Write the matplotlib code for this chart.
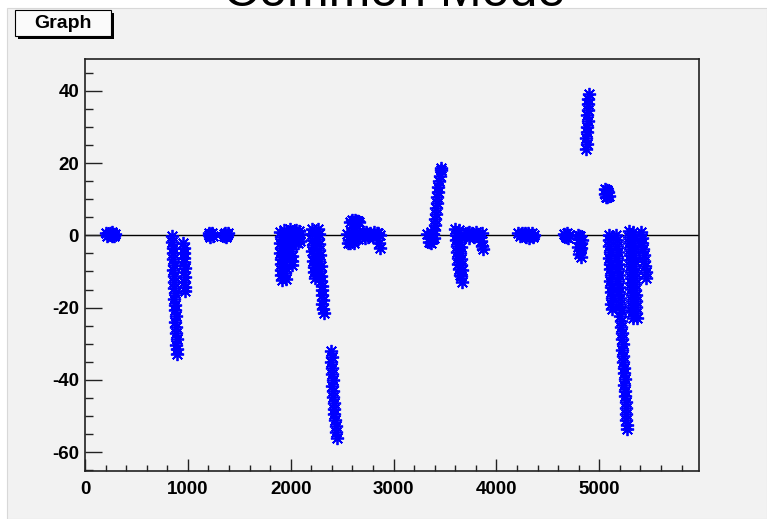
import numpy as np
import matplotlib
matplotlib.use("Agg")
import matplotlib.pyplot as plt
from matplotlib.patches import Rectangle
from matplotlib.ticker import MultipleLocator

# ── Data, one small cluster per streak ──────────────────────────────
A_x = [205, 222, 240, 258, 275, 290, 212, 232, 265, 284]
A_y = [0.6, 0.1, 0.8, -0.2, 0.5, 0.3, -0.3, 0.4, 0.9, -0.1]

B_x = [846, 850, 852, 857, 853, 861, 858, 866, 862, 869, 873, 868, 878, 875, 882, 879, 886, 884, 890, 887, 894, 893]
B_y = [-0.3, -1.8, -3.4, -5.0, -6.6, -8.1, -9.7, -11.3, -12.9, -14.5, -16.0, -17.6, -19.2, -20.8, -22.4, -24.0,
       -25.5, -27.1, -28.7, -30.3, -31.6, -32.8]

C_x = [955, 962, 958, 965, 961, 968, 964, 971, 967, 975, 972]
C_y = [-2.2, -3.5, -4.9, -6.2, -7.5, -8.9, -10.2, -11.5, -12.9, -14.2, -15.5]

D_x = [1201, 1214, 1227, 1240, 1208, 1233]
D_y = [0.7, -0.4, 0.5, -0.2, 0.1, 0.8]

E_x = [1347, 1360, 1373, 1386, 1354, 1380]
E_y = [0.3, 0.8, -0.5, 0.6, -0.3, 0.1]

F_x = [1895, 1903, 1898, 1906, 1900, 1908, 1902, 1910, 1905, 1912,
       1938, 1945, 1940, 1948, 1942, 1950, 1944, 1952, 1946, 1950,
       1995, 2005, 2000, 2010, 2003, 2012, 2008, 2015,
       2050, 2065, 2080, 2095, 2058, 2075, 2090]
F_y = [1.0, -0.5, -2.0, -3.5, -5.0, -6.5, -8.0, -9.5, -11.0, -12.4,
       1.5, 0.0, -1.5, -3.0, -4.5, -6.0, -7.5, -9.0, -10.5, -12.0,
       1.8, 0.3, -1.2, -2.7, -4.2, -5.7, -7.0, -8.3,
       1.5, 0.8, 1.2, 0.3, -1.0, -2.0, -1.5]

G_x = [2205, 2212, 2208, 2216, 2212, 2222, 2218, 2228, 2224, 2235,
       2262, 2275, 2268, 2280, 2272, 2285, 2278, 2290,
       2288, 2296, 2292, 2300, 2305, 2302, 2312, 2308, 2318, 2322]
G_y = [1.8, 0.3, -1.2, -2.7, -4.2, -5.7, -7.2, -8.7, -10.2, -11.7,
       1.8, 0.5, -1.0, -2.5, -4.0, -5.5, -7.0, -8.6,
       -10.0, -11.3, -12.6, -13.9, -15.2, -16.5, -17.8, -19.1, -20.4, -21.5]

H_x = [2393, 2400, 2396, 2405, 2401, 2410, 2406, 2415, 2411, 2420, 2425, 2421, 2432, 2438, 2443, 2450]
H_y = [-32.0, -33.6, -35.2, -36.8, -38.4, -40.0, -41.6, -43.2, -44.8, -46.4, -48.0, -49.6, -51.2, -52.8,
       -54.4, -56.0]

I_x = [2550, 2555, 2565, 2580, 2595, 2610, 2625, 2640, 2655, 2668, 2585, 2605, 2630, 2650, 2575, 2620, 2660,
       2700, 2715, 2730, 2750, 2770, 2790, 2810, 2830, 2850, 2868, 2722, 2760, 2800, 2840, 2860, 2865]
I_y = [0.5, -2.0, -1.2, 3.8, 4.2, 3.5, 4.3, 3.9, 4.1, 3.6, 1.0, -0.5, 1.5, -1.0, -2.2, -2.0, 0.8,
       0.9, 0.3, 0.9, -0.5, 0.7, 0.2, 0.9, -0.4, 0.6, 0.2, -0.6, 0.4, -0.5, 0.8, -2.2, -3.6]

J_x = [3330, 3345, 3360, 3372, 3385, 3340, 3365, 3395, 3395, 3400, 3405, 3408, 3413, 3420, 3425, 3430,
       3437, 3442, 3450, 3458, 3462]
J_y = [0.5, -1.8, 1.0, -1.0, 0.3, -0.6, -2.2, -0.8, 1.5, 3.0, 4.5, 6.0, 7.5, 9.0, 10.5, 12.0,
       13.5, 15.0, 16.5, 18.0, 18.6]

K_x = [3598, 3606, 3603, 3614, 3618, 3624, 3630, 3636, 3642,
       3640, 3648, 3644, 3652, 3650, 3657, 3655, 3662, 3660, 3666,
       3715, 3730, 3745, 3760, 3780, 3800, 3820, 3840, 3860, 3738, 3770, 3810, 3850, 3858, 3865]
K_y = [1.8, 0.2, -1.4, -3.0, -4.6, -6.2, -7.8, -9.4, -11.0,
       1.5, -0.1, -1.7, -3.3, -4.9, -6.5, -8.1, -9.7, -11.3, -12.9,
       0.6, 1.0, 0.2, 0.8, -0.4, 0.9, 0.3, -0.5, 0.7, -0.6, 0.4, -0.3, -1.5, -2.8, -3.9]

L_x = [4212, 4230, 4250, 4270, 4290, 4310, 4330, 4350, 4367, 4240, 4280, 4320, 4360]
L_y = [0.7, -0.3, 0.8, 0.1, -0.5, 0.6, -0.2, 0.8, 0.2, 0.4, 0.7, -0.6, -0.4]

M_x = [4660, 4675, 4690, 4708, 4668, 4700]
M_y = [0.5, -0.4, 0.6, 0.0, 0.2, -0.6]

N_x = [4792, 4800, 4810, 4820, 4828, 4798, 4815, 4825, 4805, 4822]
N_y = [0.0, -1.0, -0.3, -2.0, -1.2, -3.1, -4.0, -3.5, -5.2, -6.1]

O_x = [4874, 4878, 4876, 4882, 4880, 4886, 4884, 4890, 4888, 4894, 4898]
O_y = [23.8, 25.4, 27.0, 28.6, 30.1, 31.7, 33.3, 34.8, 36.3, 37.9, 39.3]

P_x = [5053, 5066, 5079, 5092, 5060, 5085, 5072]
P_y = [12.9, 10.6, 12.6, 11.0, 11.5, 12.0, 10.5]

Q1_x = [5092, 5097, 5094, 5101, 5099, 5106, 5103, 5111, 5108, 5116, 5113, 5121, 5119, 5127]
Q1_y = [0.2, -1.4, -3.0, -4.6, -6.2, -7.8, -9.4, -11.0, -12.6, -14.2, -15.8, -17.4, -19.0, -20.5]

Q2_x = [5165, 5171, 5168, 5178, 5174, 5184, 5180, 5190, 5186, 5197, 5193, 5203, 5199, 5209, 5205, 5215,
        5212, 5222, 5218, 5228, 5224, 5234, 5230, 5240, 5237, 5247, 5243, 5253, 5250, 5259, 5256, 5265,
        5262, 5270, 5268]
Q2_y = [0.2, -1.4, -3.0, -4.6, -6.2, -7.8, -9.4, -11.0, -12.6, -14.2, -15.8, -17.4, -19.0, -20.6, -22.2,
        -23.8, -25.4, -27.0, -28.6, -30.2, -31.8, -33.4, -35.0, -36.6, -38.2, -39.8, -41.4, -43.0, -44.6,
        -46.2, -47.8, -49.4, -51.0, -52.4, -53.6]

Q3_x = [5287, 5293, 5290, 5298, 5295, 5303, 5300, 5308, 5305, 5313, 5310, 5318, 5316, 5323, 5321, 5328,
        5330, 5336, 5333, 5340, 5337, 5344, 5341, 5348, 5345, 5352, 5349, 5356, 5353, 5360, 5357, 5364]
Q3_y = [1.1, -0.5, -2.1, -3.7, -5.3, -6.9, -8.5, -10.1, -11.7, -13.3, -14.9, -16.5, -18.1, -19.7, -21.3, -23.0,
        1.0, -0.6, -2.2, -3.8, -5.4, -7.0, -8.6, -10.2, -11.8, -13.4, -15.0, -16.6, -18.2, -19.8, -21.4, -22.8]

Q4_x = [5405, 5415, 5420, 5428, 5432, 5440, 5444, 5450, 5455]
Q4_y = [1.0, -0.6, -2.2, -3.8, -5.4, -7.0, -8.6, -10.2, -11.8]

x_ticks = [0, 1000, 2000, 3000, 4000, 5000]
y_ticks = [-60, -40, -20, 0, 20, 40]

all_x = np.concatenate([A_x, B_x, C_x, D_x, E_x, F_x, G_x, H_x, I_x, J_x, K_x,
                        L_x, M_x, N_x, O_x, P_x, Q1_x, Q2_x, Q3_x, Q4_x])
all_y = np.concatenate([A_y, B_y, C_y, D_y, E_y, F_y, G_y, H_y, I_y, J_y, K_y,
                        L_y, M_y, N_y, O_y, P_y, Q1_y, Q2_y, Q3_y, Q4_y])

# ── Canvas ───────────────────────────────────────────────────────────
W, H = 767, 519
BG = '#f2f2f2'
plt.rcParams['font.family'] = ['Liberation Sans', 'DejaVu Sans']
plt.rcParams['axes.unicode_minus'] = False

fig = plt.figure(figsize=(W / 100, H / 100), dpi=100, facecolor='white')
fig.add_artist(Rectangle((7 / W, 0), 1 - 7 / W, (H - 8) / H, transform=fig.transFigure,
                         facecolor=BG, edgecolor='#d8d8d8', linewidth=0.8, zorder=0))

# title, mostly cut off at the top as in the original
fig.text(394 / W, 1 - 6 / H, 'Common Mode', ha='center', va='baseline',
         fontsize=36, color='black')

# "Graph" label box with shadow
fig.add_artist(Rectangle((18 / W, 1 - 39 / H), 96 / W, 26 / H, transform=fig.transFigure,
                         facecolor='black', edgecolor='none', zorder=2))
fig.add_artist(Rectangle((15 / W, 1 - 36 / H), 96 / W, 26 / H, transform=fig.transFigure,
                         facecolor='#fafafa', edgecolor='black', linewidth=0.8, zorder=3))
fig.text(63 / W, 1 - 23.5 / H, 'Graph', ha='center', va='center',
         fontsize=14, fontweight='bold', zorder=4)

# ── Axes ─────────────────────────────────────────────────────────────
ax = fig.add_axes([85 / W, 1 - 471 / H, (699 - 85) / W, (471 - 59) / H])
ax.set_facecolor(BG)
ax.set_xlim(0, 5970)
ax.set_ylim(-65.26, 48.86)

ax.axhline(0, color='black', linewidth=1.0, zorder=1)
ax.plot(all_x, all_y, linestyle='none', marker=(8, 2, 0), markersize=9.5,
        markeredgewidth=1.3, color='#0000ff', zorder=2)

ax.set_xticks(x_ticks)
ax.set_yticks(y_ticks)
ax.xaxis.set_minor_locator(MultipleLocator(200))
ax.yaxis.set_minor_locator(MultipleLocator(5))
ax.tick_params(axis='both', which='both', direction='in', top=False, right=False,
               width=1.0, color='#222222')
ax.tick_params(axis='y', which='major', length=12.2, pad=4.3)
ax.tick_params(axis='y', which='minor', length=6.1)
ax.tick_params(axis='x', which='major', length=8.6, pad=7)
ax.tick_params(axis='x', which='minor', length=4.3)
for lab in ax.get_xticklabels() + ax.get_yticklabels():
    lab.set_fontweight('bold')
    lab.set_fontsize(13.5)

for sp in ax.spines.values():
    sp.set_linewidth(1.2)
    sp.set_color('#222222')

fig.savefig('out.png', dpi=100, facecolor=fig.get_facecolor())
